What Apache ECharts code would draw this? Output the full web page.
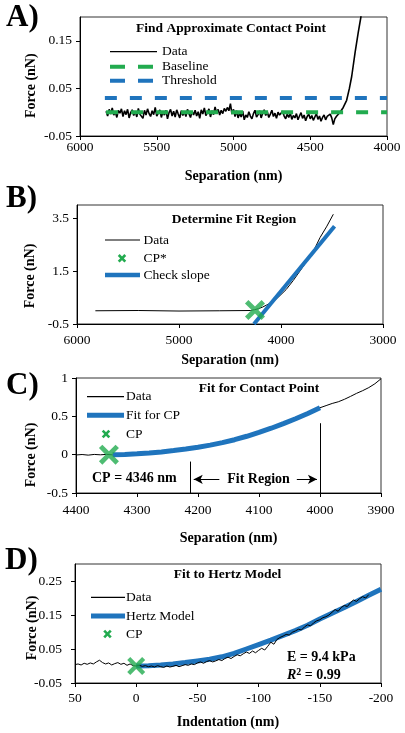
<!DOCTYPE html>
<html><head><meta charset="utf-8">
<script src="https://cdn.jsdelivr.net/npm/echarts@6.0.0/dist/echarts.min.js"></script>
<style>html,body{margin:0;padding:0;background:#fff}#c{width:405px;height:733px}</style>
</head><body><div id="c"></div>
<script>
// ---------- Panel A: Find Approximate Contact Point ----------
const sepA = [
  5830,5820,5810,5800,5790,5780,5770,5760,5750,5740,5730,5720,5710,5700,
  5690,5680,5670,5660,5650,5640,5630,5620,5610,5600,5590,5580,5570,5560,5550,
  5540,5530,5520,5510,5500,5490,5480,5470,5460,5450,5440,5430,5420,5410,5400,
  5390,5380,5370,5360,5350,5340,5330,5320,5310,5300,5290,5280,5270,5260,5250,
  5240,5230,5220,5210,5200,5190,5180,5170,5160,5150,5140,5130,5120,5110,5100,
  5090,5080,5070,5060,5050,5040,5030,5020,5010,5000,4990,4980,4970,4960,4950,
  4940,4930,4920,4910,4900,4890,4880,4870,4860,4850,4840,4830,4820,4810,4800,
  4790,4780,4770,4760,4750,4740,4730,4720,4710,4700,4690,4680,4670,4660,4650,
  4640,4630,4620,4610,4600,4590,4580,4570,4560,4550,4540,4530,4520,4510,4500,
  4490,4480,4470,4460,4450,4440,4430,4420,4410,4400,4390,4380,4370,4360,4350,
  4340,4330,
  4320,4306,4285,4263,4245,4230,4208,4187,4170,4155
];
const forceA = [
  0.002,-0.008,0.006,-0.004,0.009,-0.006,0.001,-0.011,0.004,-0.002,0.007,-0.009,0.003,-0.005,
  0.006,-0.012,-0.001,0.005,-0.007,0.002,-0.010,0.008,-0.004,0.000,-0.013,0.004,-0.006,0.007,-0.003,
  -0.009,0.003,-0.005,0.010,-0.008,-0.002,0.005,-0.011,0.001,-0.006,0.004,-0.014,-0.001,0.006,-0.008,
  0.002,-0.010,0.005,-0.004,-0.012,0.003,-0.007,0.001,-0.009,0.006,-0.003,-0.011,0.002,-0.006,0.004,
  -0.008,0.001,-0.013,0.005,-0.004,0.009,-0.007,-0.001,0.007,-0.010,0.003,-0.005,0.011,-0.002,0.006,
  -0.006,0.004,-0.003,0.008,0.002,0.010,0.003,0.018,-0.004,0.006,-0.009,0.003,-0.012,-0.002,-0.010,
  0.002,-0.016,-0.006,-0.011,0.001,-0.008,-0.014,-0.003,0.004,-0.010,-0.005,0.003,-0.012,-0.002,0.005,
  -0.007,0.001,-0.011,-0.004,0.004,-0.009,-0.002,-0.013,0.000,-0.006,-0.010,0.002,-0.008,-0.014,-0.004,
  -0.011,-0.002,-0.015,-0.007,-0.012,-0.003,-0.016,-0.008,-0.001,-0.013,-0.006,-0.018,-0.009,-0.004,-0.014,
  -0.007,-0.017,-0.010,-0.003,-0.015,-0.008,-0.019,-0.011,-0.006,-0.016,-0.009,-0.013,-0.004,-0.012,-0.026,
  -0.014,-0.009,
  -0.008,0.000,0.010,0.025,0.050,0.075,0.125,0.168,0.200,0.240
];
const baselineSep = [5830, 4000];
const baselineForce = [0, 0];
const thresholdSep = [5838, 4000];
const thresholdForce = [0.03, 0.03];
const yTicksA = [-0.05, 0.05, 0.15];

// ---------- Panel B: Determine Fit Region ----------
const sepB = [5820,5400,5000,4600,4300,4260,4220,4180,4140,4100,4060,4025,3950,3879,3800,3732,3670,3617,3550,3487];
const forceB = [0,0.01,-0.01,0,0.01,0.04,0.08,0.14,0.22,0.30,0.40,0.52,0.80,1.15,1.58,1.96,2.35,2.77,3.20,3.65];
const slopeSep = [4265, 3475];
const slopeForce = [-0.5, 3.2];
const cpStarSep = [4255];
const cpStarForce = [0.03];
const yTicksB = [-0.5, 1.5, 3.5];

// ---------- Panel C: Fit for Contact Point ----------
const sepC = [
  4400,4390,4380,4370,4360,4350,4340,4330,4320,4310,4300,
  4290,4280,4270,4260,4250,4240,4230,4220,4210,4200,
  4190,4180,4170,4160,4150,4140,4130,4120,4110,4100,
  4090,4080,4070,4060,4050,4040,4030,4020,4010,4000,
  3990,3980,3970,3960,3950,3940,3930,3920,3910,3900
];
const forceC = [
  -0.004,0.002,-0.006,0.003,-0.002,0.004,-0.003,0.002,0.003,0.008,0.010,
  0.016,0.020,0.027,0.033,0.042,0.050,0.062,0.072,0.085,0.096,
  0.110,0.126,0.142,0.160,0.178,0.200,0.222,0.245,0.270,0.298,
  0.325,0.352,0.380,0.410,0.440,0.470,0.505,0.540,0.575,0.612,
  0.640,0.668,0.690,0.722,0.760,0.800,0.835,0.875,0.925,0.990
];
const fitSep = [4340,4320,4300,4280,4260,4240,4220,4200,4180,4160,4140,4120,4100,4080,4060,4040,4020,4000];
const fitForce = [0,0.003,0.011,0.022,0.036,0.053,0.073,0.096,0.124,0.157,0.195,0.240,0.290,0.345,0.405,0.468,0.537,0.612];
const cpSep = [4346];
const cpForce = [0];
const fitRegionBounds = [4212, 4000];
const yTicksC = [-0.5, 0, 0.5, 1];

// ---------- Panel D: Fit to Hertz Model ----------
const indentD = [
  50,47.5,45,42.5,40,37.5,35,32.5,30,27.5,25,22.5,20,17.5,15,12.5,10,7.5,5,2.5,0,
  -2.5,-5,-7.5,-10,-12.5,-15,-17.5,-20,-22.5,-25,-27.5,-30,-32.5,-35,-37.5,-40,-42.5,-45,-47.5,-50,
  -52.5,-55,-57.5,-60,-62.5,-65,-67.5,-70,-72.5,-75,-77.5,-80,-82.5,-85,-87.5,-90,-92.5,-95,-97.5,-100,
  -102.5,-105,-107.5,-110,-112.5,-115,-117.5,-120,-122.5,-125,-127.5,-130,-132.5,-135,-137.5,-140,-142.5,-145,-147.5,-150,
  -152.5,-155,-157.5,-160,-162.5,-165,-167.5,-170,-172.5,-175,-177.5,-180,-182.5,-185,-187.5,-190
];
const forceD = [
  0.004,0.006,0.003,0.008,0.005,0.009,0.006,0.012,0.017,0.010,0.006,0.009,0.003,0.007,0.010,0.005,0.008,0.002,0.006,0.001,0.000,
  0.002,-0.001,0.001,-0.002,0.000,-0.003,0.001,-0.002,-0.004,0.000,-0.003,-0.001,0.002,-0.002,0.001,0.004,0.002,0.006,0.004,0.009,
  0.012,0.008,0.013,0.016,0.012,0.015,0.019,0.016,0.022,0.026,0.022,0.028,0.033,0.030,0.036,0.041,0.037,0.044,0.039,0.046,
  0.052,0.047,0.058,0.070,0.064,0.078,0.084,0.088,0.093,0.091,0.099,0.103,0.108,0.106,0.115,0.121,0.118,0.127,0.133,0.136,
  0.142,0.145,0.150,0.158,0.166,0.161,0.172,0.178,0.175,0.186,0.194,0.190,0.198,0.204,0.200,0.210
];
const hertzIndent = [0,-10,-20,-30,-40,-50,-60,-70,-80,-90,-100,-110,-120,-130,-140,-150,-160,-170,-180,-190,-200];
const hertzForce = [0,0.001,0.003,0.006,0.010,0.015,0.020,0.027,0.037,0.050,0.063,0.076,0.090,0.104,0.120,0.138,0.155,0.172,0.190,0.208,0.226];
const cpIndent = [0];
const cpForceD = [0];
const yTicksD = [-0.05, 0.05, 0.15, 0.25];

// ---------- styling ----------
const FONT = 'Liberation Serif';
const GREEN = '#22ab4f';
const BLUE = '#1f74bd';
const XPATH = 'path://M0,1.7L1.7,0L5,3.3L8.3,0L10,1.7L6.7,5L10,8.3L8.3,10L5,6.7L1.7,10L0,8.3L3.3,5Z';

const pairs = (xs, ys) => xs.map((x, i) => [x, ys[i]]);
const fmt = v => String(Math.round(v * 1000) / 1000);

function xAx(gi, min, max, interval, margin, nameGap) {
  return {
    type: 'value', gridIndex: gi, min, max, interval, inverse: true,
    name: gi === 3 ? 'Indentation (nm)' : 'Separation (nm)',
    nameLocation: 'middle', nameGap,
    nameTextStyle: { fontFamily: FONT, fontWeight: 'bold', fontSize: 14, color: '#000' },
    axisLine: { show: true, onZero: false, lineStyle: { color: '#000', width: 1 } },
    axisTick: { show: true, inside: false, length: 4, lineStyle: { color: '#000' } },
    axisLabel: { margin, fontFamily: FONT, fontSize: 13.5, color: '#000', formatter: fmt },
    splitLine: { show: false }
  };
}
function yAx(gi, min, max, interval, ticks, margin) {
  return {
    type: 'value', gridIndex: gi, min, max, interval,
    axisLine: { show: true, onZero: false, lineStyle: { color: '#000', width: 1 } },
    axisTick: { show: true, inside: false, length: 4, customValues: ticks, lineStyle: { color: '#000' } },
    axisLabel: { margin, customValues: ticks, fontFamily: FONT, fontSize: 13.5, color: '#000', formatter: fmt },
    splitLine: { show: false }
  };
}
const gridBase = { show: true, borderColor: '#333', borderWidth: 1, backgroundColor: 'transparent', containLabel: false };

function lineS(gi, data, color, width, dash, z) {
  return {
    type: 'line', xAxisIndex: gi, yAxisIndex: gi, data, symbol: 'none', showSymbol: false,
    color, lineStyle: { color, width, type: dash || 'solid' }, z: z || 2, clip: true, animation: false, silent: true
  };
}
function cpS(gi, data, size) {
  return {
    type: 'scatter', xAxisIndex: gi, yAxisIndex: gi, data, symbol: XPATH, symbolSize: size,
    itemStyle: { color: GREEN }, z: 6, animation: false, silent: true
  };
}

// ---------- graphics: titles, legends, annotations ----------
const G = [];
function gText(x, y, text, font, align, rot, rich) {
  const st = { text, font, fill: '#000', align: align || 'left', verticalAlign: 'middle' };
  if (rich) st.rich = rich;
  G.push({ type: 'text', x, y, rotation: rot || 0, z: 50, silent: true, style: st });
}
function gLine(x1, y1, x2, y2, color, w, dash) {
  const st = { stroke: color, lineWidth: w };
  if (dash) st.lineDash = dash;
  G.push({ type: 'line', z: 50, silent: true, shape: { x1, y1, x2, y2 }, style: st });
}
function gX(cx, cy, r, color) {
  gLine(cx - r, cy - r, cx + r, cy + r, color, 2.6);
  gLine(cx - r, cy + r, cx + r, cy - r, color, 2.6);
}
const LEG = '13.5px "' + FONT + '"';
const TITLE = 'bold 13.5px "' + FONT + '"';
const BOLD14 = 'bold 14px "' + FONT + '"';
const LETTER = 'bold 31px "' + FONT + '"';

// panel letters
gText(6, 18, 'A)', LETTER);
gText(6, 199, 'B)', LETTER);
gText(6, 385.5, 'C)', LETTER);
gText(5, 561, 'D)', LETTER);
// y names
gText(31.7, 85.7, 'Force (nN)', BOLD14, 'center', Math.PI / 2);
gText(30, 276, 'Force (nN)', BOLD14, 'center', Math.PI / 2);
gText(31.7, 455, 'Force (nN)', BOLD14, 'center', Math.PI / 2);
gText(32.5, 628, 'Force (nN)', BOLD14, 'center', Math.PI / 2);
// titles
gText(231, 28.5, 'Find Approximate Contact Point', TITLE, 'center');
gText(234, 220, 'Determine Fit Region', TITLE, 'center');
gText(259, 388.3, 'Fit for Contact Point', TITLE, 'center');
gText(227.5, 575, 'Fit to Hertz Model', TITLE, 'center');
// legend A
gLine(110, 51.7, 157, 51.7, '#000', 1.2); gText(162, 51.7, 'Data', LEG);
gLine(110, 66.7, 157, 66.7, GREEN, 4, [15, 13]); gText(162, 66.7, 'Baseline', LEG);
gLine(110, 80.7, 157, 80.7, BLUE, 4, [15, 13]); gText(162, 80.7, 'Threshold', LEG);
// legend B
gLine(105, 240, 140, 240, '#000', 1.2); gText(143.5, 240, 'Data', LEG);
gX(122, 258.3, 3.3, GREEN); gText(143.5, 258.3, 'CP*', LEG);
gLine(105, 275, 140, 275, BLUE, 4.5); gText(143.5, 275, 'Check slope', LEG);
// legend C
gLine(87, 396.7, 124, 396.7, '#000', 1.2); gText(126, 396.7, 'Data', LEG);
gLine(87, 415.3, 124, 415.3, BLUE, 5); gText(126, 415.3, 'Fit for CP', LEG);
gX(106, 434, 3.3, GREEN); gText(126, 434, 'CP', LEG);
// legend D
gLine(91, 597.3, 125, 597.3, '#000', 1.2); gText(126, 597.3, 'Data', LEG);
gLine(91, 616, 125, 616, BLUE, 5); gText(126, 616, 'Hertz Model', LEG);
gX(107.5, 634, 3.3, GREEN); gText(126, 634, 'CP', LEG);
// annotations
gText(92, 478.3, 'CP = 4346 nm', BOLD14);
gText(258.5, 479, 'Fit Region', BOLD14, 'center');
gText(287, 657, 'E = 9.4 kPa', BOLD14);
gText(287, 675.5, '{i|R}{s|2}{b| = 0.99}', BOLD14, 'left', 0, {
  i: { fontFamily: FONT, fontSize: 14, fontWeight: 'bold', fontStyle: 'italic', lineHeight: 17 },
  s: { fontFamily: FONT, fontSize: 10, fontWeight: 'bold', verticalAlign: 'top', lineHeight: 17 },
  b: { fontFamily: FONT, fontSize: 14, fontWeight: 'bold', lineHeight: 17 }
});

const arrowY = -0.322;
const option = {
  animation: false,
  textStyle: { fontFamily: FONT },
  grid: [
    Object.assign({ left: 80, top: 17, width: 307, height: 119 }, gridBase),
    Object.assign({ left: 77, top: 205, width: 306, height: 119 }, gridBase),
    Object.assign({ left: 76, top: 378, width: 305, height: 115 }, gridBase),
    Object.assign({ left: 75, top: 564, width: 306, height: 119 }, gridBase)
  ],
  xAxis: [
    xAx(0, 4000, 6000, 500, 4, 33),
    xAx(1, 3000, 6000, 1000, 9, 29),
    xAx(2, 3900, 4400, 100, 10, 38),
    xAx(3, -200, 50, 50, 8, 32)
  ],
  yAxis: [
    yAx(0, -0.05, 0.2, 0.1, yTicksA, 8),
    yAx(1, -0.5, 4, 2, yTicksB, 8),
    yAx(2, -0.5, 1, 0.5, yTicksC, 8),
    yAx(3, -0.05, 0.3, 0.1, yTicksD, 13)
  ],
  series: [
    // A
    lineS(0, pairs(sepA, forceA), '#000', 1.6, null, 2),
    lineS(0, pairs(baselineSep, baselineForce), GREEN, 4, [12, 13], 3),
    lineS(0, pairs(thresholdSep, thresholdForce), BLUE, 4, [12, 13], 3),
    // B
    lineS(1, pairs(sepB, forceB), '#000', 1, null, 2),
    lineS(1, pairs(slopeSep, slopeForce), BLUE, 4, null, 3),
    cpS(1, pairs(cpStarSep, cpStarForce), 20),
    // C
    Object.assign(lineS(2, pairs(sepC, forceC), '#000', 1, null, 2), {
      markLine: {
        silent: true, animation: false, symbol: ['none', 'none'], symbolSize: [7, 9],
        label: { show: false }, emphasis: { disabled: true },
        lineStyle: { color: '#000', width: 1, type: 'solid' },
        data: [
          [{ coord: [fitRegionBounds[0], -0.09] }, { coord: [fitRegionBounds[0], -0.5] }],
          [{ coord: [fitRegionBounds[1], 0.41] }, { coord: [fitRegionBounds[1], -0.5] }],
          [{ coord: [4165, arrowY], symbol: 'none' }, { coord: [4207, arrowY], symbol: 'arrow', symbolSize: [7, 9] }],
          [{ coord: [4038, arrowY], symbol: 'none' }, { coord: [4005, arrowY], symbol: 'arrow', symbolSize: [7, 9] }]
        ]
      }
    }),
    lineS(2, pairs(fitSep, fitForce), BLUE, 5, null, 3),
    cpS(2, pairs(cpSep, cpForce), 20),
    // D
    lineS(3, pairs(hertzIndent, hertzForce), BLUE, 5, null, 2),
    lineS(3, pairs(indentD, forceD), '#000', 1, null, 3),
    cpS(3, pairs(cpIndent, cpForceD), 18)
  ],
  graphic: { elements: G }
};
const chart = echarts.init(document.getElementById('c'), null, { renderer: 'canvas' });
chart.setOption(option);
</script></body></html>
